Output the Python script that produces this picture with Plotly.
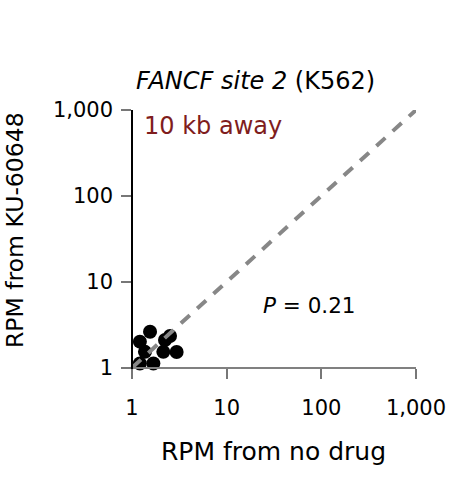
import plotly.graph_objects as go

# Data
no_drug = [1.55, 1.21, 2.23, 2.52, 1.37, 2.14, 2.96, 1.21, 1.68]
ku60648 = [2.62, 2.01, 2.10, 2.34, 1.53, 1.53, 1.52, 1.12, 1.12]
diag = [1, 1000]
tick_vals = [1, 10, 100, 1000]
tick_text = ["1", "10", "100", "1,000"]

FONT = "DejaVu Sans"
W, H = 461, 478
L, R, T, B = 122, 45, 110, 100
pw, ph = W - L - R, H - T - B

dx = 0.106
dy = 0.12

fig = go.Figure()
fig.add_trace(go.Scatter(
    x=no_drug, y=ku60648, mode="markers",
    marker=dict(color="black", size=14, line=dict(width=0)),
    showlegend=False, hoverinfo="skip"))
fig.add_trace(go.Scatter(
    x=diag, y=diag, mode="lines",
    line=dict(color="#878787", width=4, dash="12px,10px"),
    showlegend=False, hoverinfo="skip"))

def px(sx):
    return (sx - L) / pw

def py(sy):
    return (H - B - sy) / ph

fig.update_layout(
    width=W, height=H,
    margin=dict(l=L, r=R, t=T, b=B, autoexpand=False),
    paper_bgcolor="white", plot_bgcolor="white",
    font=dict(family=FONT, size=21, color="black"),
    xaxis=dict(type="log", range=[-dx, 3], anchor="free", position=dy / (3 + dy),
               tickvals=tick_vals, ticktext=tick_text, automargin=False,
               ticks="outside", ticklen=10, tickwidth=1.5, tickcolor="#777777",
               showline=True, linecolor="#808080", linewidth=2,
               showgrid=False, zeroline=False, ticklabelstandoff=11,
               tickfont=dict(family=FONT, size=21, color="black")),
    yaxis=dict(type="log", range=[-dy, 3], anchor="free", position=dx / (3 + dx),
               tickvals=tick_vals, ticktext=tick_text, automargin=False,
               ticks="outside", ticklen=10, tickwidth=1.5, tickcolor="#777777",
               showline=True, linecolor="black", linewidth=1.5,
               showgrid=False, zeroline=False, ticklabelstandoff=4,
               tickfont=dict(family=FONT, size=21, color="black")),
    annotations=[
        dict(text="<i>FANCF site 2</i> (K562)", x=px(255), y=py(81), xref="paper", yref="paper",
             showarrow=False, font=dict(size=24, color="black"), xanchor="center", yanchor="middle"),
        dict(text="10 kb away", x=px(142), y=py(126), xref="paper", yref="paper",
             showarrow=False, font=dict(size=24, color="#7f1d1d"), xanchor="left", yanchor="middle"),
        dict(text="<i>P</i> = 0.21", x=px(309), y=py(305), xref="paper", yref="paper",
             showarrow=False, font=dict(size=21.5, color="black"), xanchor="center", yanchor="middle"),
        dict(text="RPM from no drug", x=px(273.5), y=py(451), xref="paper", yref="paper",
             showarrow=False, font=dict(size=25, color="black"), xanchor="center", yanchor="middle"),
        dict(text="RPM from KU-60648", x=px(15), y=py(230), xref="paper", yref="paper",
             showarrow=False, textangle=-90, font=dict(size=23.5, color="black"),
             xanchor="center", yanchor="middle"),
    ],
)

fig.write_html("out.html", config={"displayModeBar": False},
               post_script="document.body.style.margin='0';")
